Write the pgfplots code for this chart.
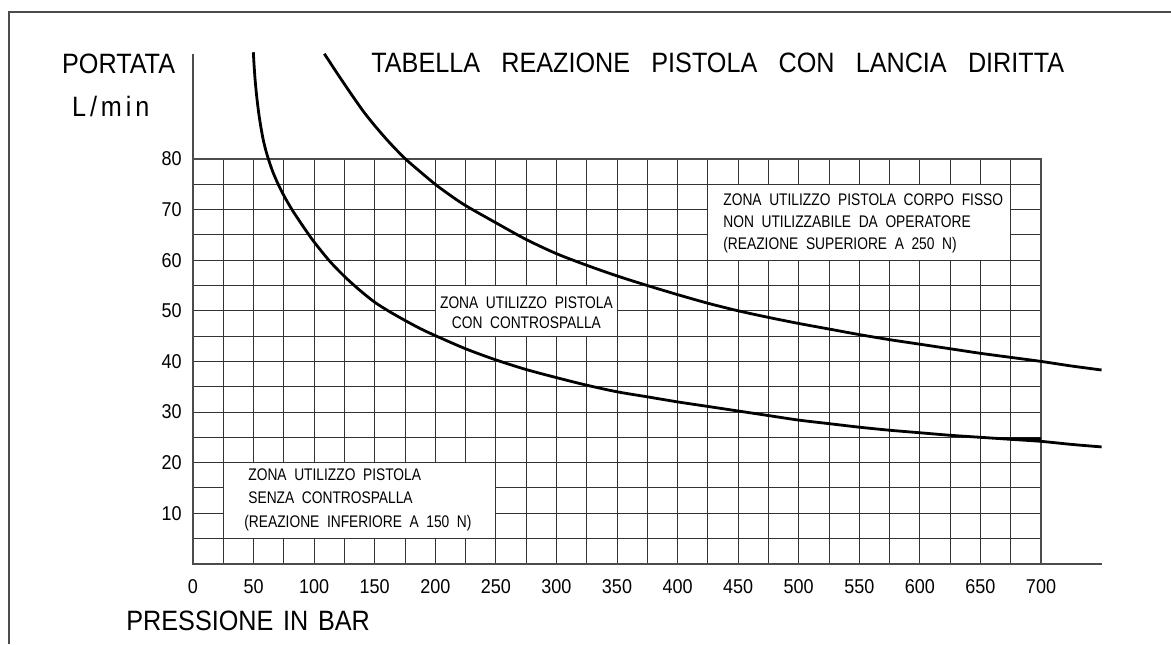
\documentclass[border=0pt]{standalone}
\usepackage{fontspec}
\setmainfont{Liberation Sans}[FakeStretch=0.9]
\newfontfamily\unitfont{Liberation Sans}[FakeStretch=0.9, LetterSpace=14]
\newfontfamily\boxfont{Liberation Sans}[FakeStretch=0.82]
\usepackage{pgfplots}
\pgfplotsset{compat=1.18}
\newcommand\bigtxt{\fontsize{14}{16}\selectfont}
\newcommand\boxtxt{\boxfont\fontsize{8.4}{10}\selectfont}
\newcommand\ts{\hspace{10.6pt}}
\newcommand\xs{\hspace{4.85pt}}
\newcommand\bs{\hspace{3.8pt}}
\begin{document}
\begin{tikzpicture}
\useasboundingbox (0,0) rectangle (585.5pt,322pt);
\draw[black!70, line width=0.6pt] (4.5pt,0) -- (4.5pt,316pt) -- (585.5pt,316pt);
\begin{axis}[
  at={(96.5pt,40.1pt)}, anchor=south west,
  scale only axis, width=424pt, height=202.4pt,
  xmin=0, xmax=700, ymin=0, ymax=80,
  clip=false,
  xtick={0,50,...,700}, minor xtick={25,75,...,675},
  ytick={10,20,...,80}, minor ytick={5,15,...,75},
  grid=both,
  major grid style={black!80, line width=0.5pt},
  minor grid style={black!80, line width=0.5pt},
  major tick length=0pt, minor tick length=0pt,
  axis line style={black!70, line width=0.9pt},
  tick label style={font=\fontsize{10}{12}\selectfont},
  /pgf/number format/assume math mode=true,
  /pgf/number format/1000 sep={},
  xticklabel style={anchor=north, inner sep=0pt, yshift=-7.5pt},
  yticklabel style={anchor=east, inner sep=0pt, xshift=-5.5pt},
]
% white label boxes
\draw[fill=white, draw=black!80, line width=0.5pt] (axis cs:25,5) rectangle (axis cs:250,20);
\draw[fill=white, draw=black!80, line width=0.5pt] (axis cs:200,45) rectangle (axis cs:350,55);
\draw[fill=white, draw=black!80, line width=0.5pt] (axis cs:425,60) rectangle (axis cs:675,75);
% axis extensions
\draw[black!70, line width=0.9pt] (axis cs:0,80) -- (axis cs:0,100.7);
\draw[black!70, line width=0.9pt] (axis cs:700,0) -- (axis cs:750,0);
% 150 N curve
\addplot[black, line width=1.4pt, smooth] coordinates {
(49.8,101.1) (50.3,99) (51,96.5) (51.9,94) (53,91.5) (54.3,89) (55.9,86.5)
(57.8,84) (60,81.8) (62.5,79.8) (65.5,77.7) (69,75.7) (73,73.7) (77.5,71.7)
(82.5,69.7) (88,67.7) (94,65.6) (100,63.6) (112.5,59.9) (125,56.8)
(137.5,54.1) (150,51.7) (162.5,49.8) (175,48.1) (187.5,46.5) (200,45.1)
(225,42.5) (250,40.3) (275,38.4) (300,36.8)
(325,35.3) (350,34.0) (375,33.0) (400,32.0) (425,31.1) (450,30.2)
(475,29.3) (500,28.4) (525,27.7) (550,27.0) (575,26.4) (600,25.9)
(625,25.4) (650,25.0) (675,24.6) (700,24.2) (725,23.6) (750,23.1)
};
% 250 N curve
\addplot[black, line width=1.4pt, smooth] coordinates {
(108.4,100.8) (112,99.5) (118,97.3) (125,94.8) (133,92) (141,89.3)
(150,86.6) (162,83.3) (175,80.1) (187.5,77.5)
(200,75.0) (212.5,72.8) (225,70.8) (250,67.4) (275,64.1) (300,61.3) (325,59.0)
(350,56.9) (375,55.0) (400,53.2) (425,51.5) (450,50.0) (475,48.7)
(500,47.5) (525,46.4) (550,45.3) (575,44.3) (600,43.4) (625,42.5)
(650,41.6) (675,40.8) (700,40.0) (725,39.1) (750,38.3)
};
% small dark wedge near 650-700
\addplot[fill=black, draw=none] coordinates {(655,25) (700,25) (700,24.2)} -- cycle;
\end{axis}
% texts
\node[anchor=base west, inner sep=0pt] at (30.85pt,285pt) {\bigtxt PORTATA};
\node[anchor=base west, inner sep=0pt] at (35.85pt,263.65pt) {\unitfont\bigtxt L/min};
\node[anchor=base west, inner sep=0pt] at (185.5pt,285.65pt) {\bigtxt TABELLA\ts REAZIONE\ts PISTOLA\ts CON\ts LANCIA\ts DIRITTA};
\node[anchor=base west, inner sep=0pt] at (63pt,6.65pt) {\bigtxt PRESSIONE\xs IN\xs BAR};
% box 1
\node[anchor=base west, inner sep=0pt] at (124pt,81.8pt) {\boxtxt ZONA\bs UTILIZZO\bs PISTOLA};
\node[anchor=base west, inner sep=0pt] at (124pt,70.15pt) {\boxtxt SENZA\bs CONTROSPALLA};
\node[anchor=base west, inner sep=0pt] at (122pt,58.45pt) {\boxtxt (REAZIONE\bs INFERIORE\bs A\bs 150\bs N)};
% box 2
\node[anchor=base, inner sep=0pt] at (263.2pt,167.95pt) {\boxtxt ZONA\bs UTILIZZO\bs PISTOLA};
\node[anchor=base, inner sep=0pt] at (263.2pt,157.65pt) {\boxtxt CON\bs CONTROSPALLA};
% box 3
\node[anchor=base west, inner sep=0pt] at (361.5pt,219.3pt) {\boxtxt ZONA\bs UTILIZZO\bs PISTOLA\bs CORPO\bs FISSO};
\node[anchor=base west, inner sep=0pt] at (361.5pt,208.3pt) {\boxtxt NON\bs UTILIZZABILE\bs DA\bs OPERATORE};
\node[anchor=base west, inner sep=0pt] at (361.5pt,197.3pt) {\boxtxt (REAZIONE\bs SUPERIORE\bs A\bs 250\bs N)};
\end{tikzpicture}
\end{document}
